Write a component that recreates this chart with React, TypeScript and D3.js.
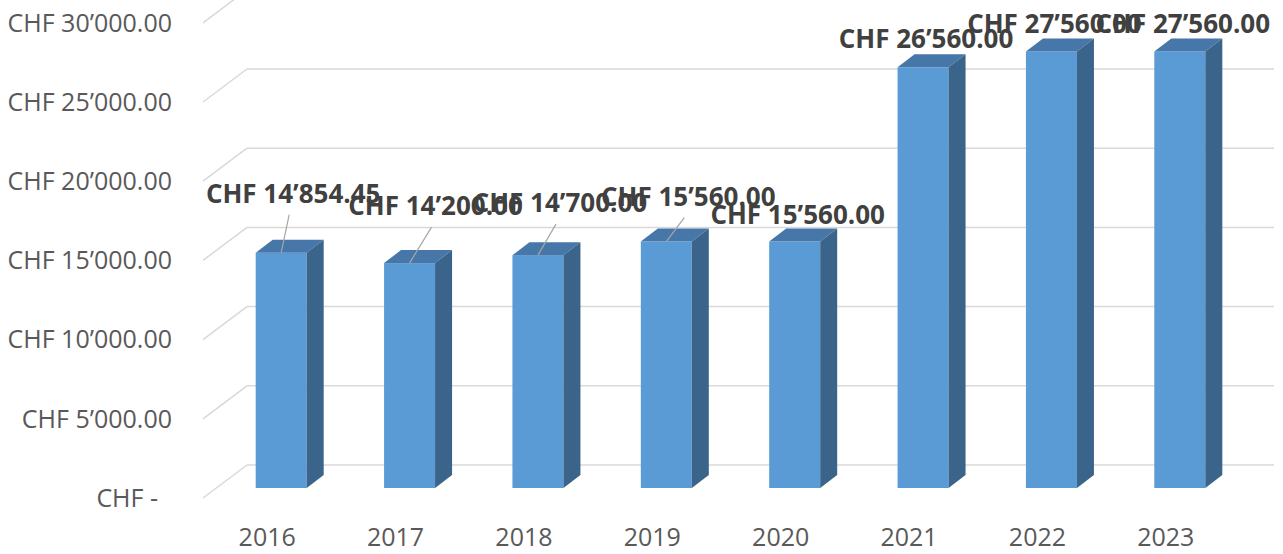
import React from 'react';
import * as d3 from 'd3';

const years = ['2016', '2017', '2018', '2019', '2020', '2021', '2022', '2023'];
const values = [14854.45, 14200, 14700, 15560, 15560, 26560, 27560, 27560];
const yTicks = [0, 5000, 10000, 15000, 20000, 25000, 30000];

// manual data-label placement (dx, dy from bar top front centre) and leader flags
const labelOffsets: [number, number][] = [
  [12, -59], [26, -57], [22, -52], [22, -45], [3, -27], [3, -28], [3, -28], [3, -28],
];
const hasLeader = [true, true, true, true, false, false, false, false];

const W = 1283;
const H = 554;
const FONT = '"Open Sans", "DejaVu Sans", sans-serif';

const fmt = (v: number) =>
  v === 0 ? 'CHF -' : 'CHF ' + d3.format(',.2f')(v).replace(/,/g, '\u2019');

export default function App() {
  const yFront = d3.scaleLinear().domain([0, 30000]).range([498, 498 - 475.2]);
  const xFront = d3.scaleBand<string>().domain(years).range([203, 1230]);
  const wall = { dx: 44, dy: -33 };
  const barOff = { dx: 14, dy: -10 };
  const depth = { dx: 17, dy: -13 };
  const barW = 51;
  const wallRight = 1274;

  const bars = years.map((yr, i) => {
    const cx = (xFront(yr) as number) + xFront.bandwidth() / 2 + barOff.dx;
    const x0 = cx - barW / 2;
    const x1 = cx + barW / 2;
    const yb = yFront(0) + barOff.dy;
    const yt = yFront(values[i]) + barOff.dy;
    return { yr, i, cx, x0, x1, yb, yt };
  });

  return (
    <svg
      width={W}
      height={H}
      style={{ position: 'absolute', left: 0, top: 0, background: '#fff' }}
      fontFamily={FONT}
    >
      {/* gridlines */}
      {yTicks.map((t) => {
        const yf = yFront(t);
        const yb = yf + wall.dy;
        return (
          <g key={'g' + t}>
            <line x1={203} y1={yf} x2={203 + wall.dx} y2={yb} stroke="#d9d9d9" strokeWidth={1.5} />
            <line x1={203 + wall.dx} y1={yb} x2={wallRight} y2={yb} stroke="#d9d9d9" strokeWidth={1.5} />
          </g>
        );
      })}

      {/* y axis labels */}
      {yTicks.map((t) => (
        <text
          key={'yl' + t}
          x={t === 0 ? 158 : 172}
          y={yFront(t)}
          dy="0.35em"
          textAnchor="end"
          fontSize={25}
          fill="#595959"
        >
          {fmt(t)}
        </text>
      ))}

      {/* bars */}
      {bars.map((b) => (
        <g key={'b' + b.yr}>
          <rect x={b.x0} y={b.yt} width={b.x1 - b.x0} height={b.yb - b.yt} fill="#5B9BD5" />
          <polygon
            points={[
              [b.x0, b.yt],
              [b.x0 + depth.dx, b.yt + depth.dy],
              [b.x1 + depth.dx, b.yt + depth.dy],
              [b.x1, b.yt],
            ].map((p) => p.join(',')).join(' ')}
            fill="#4677A8"
          />
          <polygon
            points={[
              [b.x1, b.yt],
              [b.x1 + depth.dx, b.yt + depth.dy],
              [b.x1 + depth.dx, b.yb + depth.dy],
              [b.x1, b.yb],
            ].map((p) => p.join(',')).join(' ')}
            fill="#3A6489"
          />
        </g>
      ))}

      {/* category labels */}
      {years.map((yr) => (
        <text
          key={'x' + yr}
          x={(xFront(yr) as number) + xFront.bandwidth() / 2}
          y={537}
          dy="0.35em"
          textAnchor="middle"
          fontSize={25}
          fill="#595959"
        >
          {yr}
        </text>
      ))}

      {/* leader lines */}
      {bars.map((b) =>
        hasLeader[b.i] ? (
          <line
            key={'ll' + b.yr}
            x1={b.cx + labelOffsets[b.i][0] - 4}
            y1={b.yt + labelOffsets[b.i][1] + 21}
            x2={b.cx}
            y2={b.yt}
            stroke="#a6a6a6"
            strokeWidth={1.2}
          />
        ) : null
      )}

      {/* data labels */}
      {bars.map((b) => (
        <text
          key={'dl' + b.yr}
          x={b.cx + labelOffsets[b.i][0]}
          y={b.yt + labelOffsets[b.i][1]}
          dy="0.35em"
          textAnchor="middle"
          fontSize={26}
          fontWeight="bold"
          fill="#404040"
        >
          {fmt(values[b.i])}
        </text>
      ))}
    </svg>
  );
}
